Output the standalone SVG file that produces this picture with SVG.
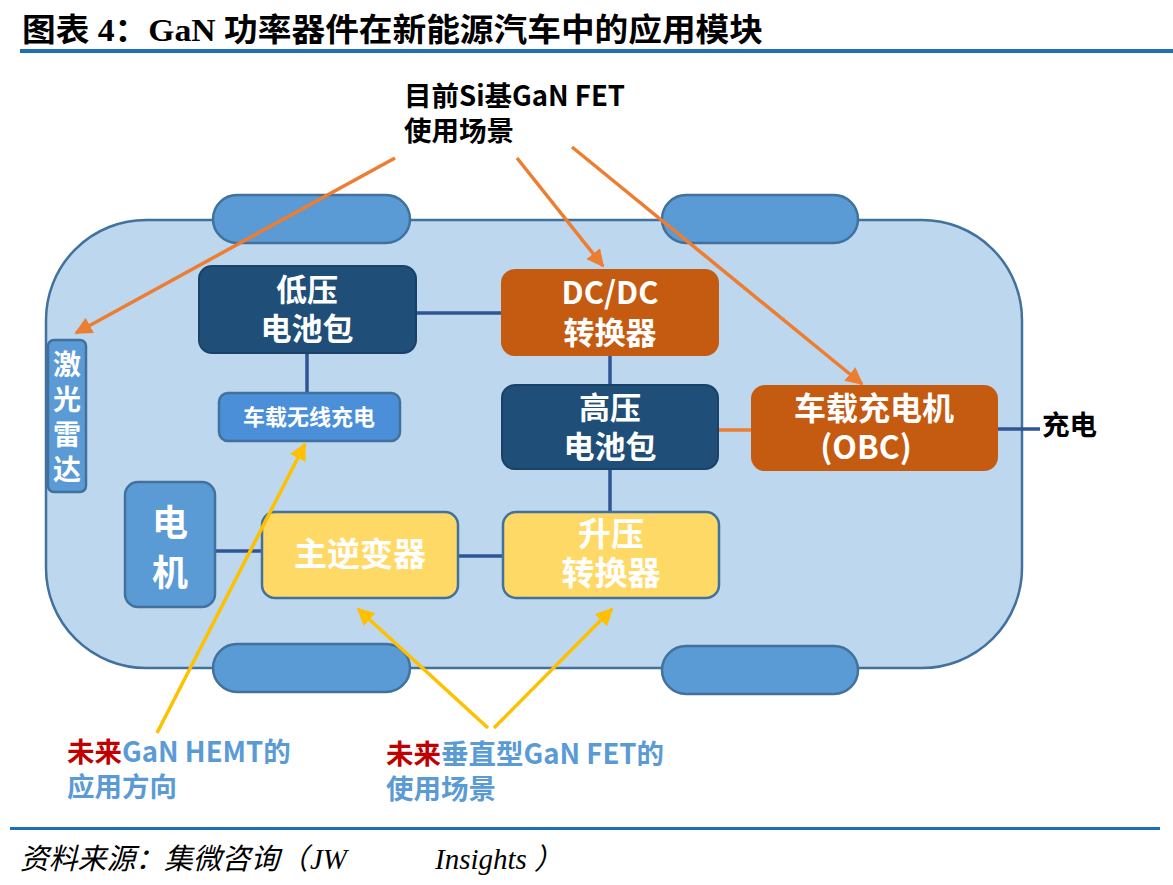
<svg xmlns="http://www.w3.org/2000/svg" width="1173" height="885" viewBox="0 0 1173 885">
<defs>
<style>
.title{font-family:"Liberation Serif","Noto Sans CJK SC",serif;font-weight:bold;font-size:32px;fill:#000}
.src{font-family:"Liberation Serif","Noto Sans CJK SC",serif;font-style:italic;font-size:29px;fill:#000}
.nt{font-family:"Noto Sans CJK SC","Noto Sans",sans-serif;font-weight:bold;fill:#fff;text-anchor:middle}
.lbl{font-family:"Noto Sans CJK SC","Noto Sans",sans-serif;font-weight:bold;font-size:27.5px}
.dark{fill:#1f4e79;stroke:#1a4268;stroke-width:2}
.orange{fill:#c55a11;stroke:#c55a11;stroke-width:2}
.mid{fill:#5b9bd5;stroke:#41719c;stroke-width:2.5}
.yel{fill:#ffd966;stroke:#41719c;stroke-width:2.5}
.wheel{fill:#5b9bd5;stroke:#41719c;stroke-width:2.5}
.conn{stroke:#2f5597;stroke-width:3.5;fill:none}
.oarr{stroke:#ed7d31;stroke-width:3.5;fill:none}
.yarr{stroke:#ffc000;stroke-width:3.5;fill:none}
</style>
<marker id="ao" viewBox="0 0 10 10" refX="9" refY="5" markerWidth="5" markerHeight="5" orient="auto" markerUnits="strokeWidth"><path d="M0,0 L10,5 L0,10 z" fill="#ed7d31"/></marker>
<marker id="ay" viewBox="0 0 10 10" refX="9" refY="5" markerWidth="5" markerHeight="5" orient="auto" markerUnits="strokeWidth"><path d="M0,0 L10,5 L0,10 z" fill="#ffc000"/></marker>
</defs>
<rect width="1173" height="885" fill="#fff"/>
<text class="title" x="22" y="41" textLength="741" lengthAdjust="spacingAndGlyphs">图表 4：GaN 功率器件在新能源汽车中的应用模块</text>
<rect x="20" y="49" width="1153" height="4" fill="#1f6fb5"/>

<g id="car">
<rect x="46" y="220" width="976" height="448" rx="100" fill="#bdd7ee" stroke="#41719c" stroke-width="2.5"/>
<rect x="213" y="195" width="197" height="48" rx="24" class="wheel"/>
<rect x="662" y="195" width="196" height="48" rx="24" class="wheel"/>
<rect x="213" y="644" width="197" height="48" rx="24" class="wheel"/>
<rect x="662" y="646" width="196" height="48" rx="24" class="wheel"/>
</g>

<g id="connectors">
<line class="conn" x1="416" y1="313" x2="502" y2="313"/>
<line class="conn" x1="307" y1="353" x2="307" y2="393"/>
<line class="conn" x1="610" y1="355" x2="610" y2="385"/>
<line class="conn" x1="610" y1="469" x2="610" y2="512"/>
<line class="conn" x1="215" y1="551" x2="262" y2="551"/>
<line class="conn" x1="458" y1="556" x2="503" y2="556"/>
<line x1="718" y1="430" x2="752" y2="430" stroke="#ed7d31" stroke-width="3.5"/>
<line class="conn" x1="978" y1="429" x2="1040" y2="429"/>
</g>

<g id="n-lv"><rect x="199" y="266" width="217" height="87" rx="13" class="dark"/>
<text class="nt" font-size="31" x="307" y="301">低压</text><text class="nt" font-size="31" x="307" y="340">电池包</text></g>
<g id="n-dcdc"><rect x="502" y="270" width="216" height="85" rx="13" class="orange"/>
<text class="nt" font-size="31" x="610" y="304">DC/DC</text><text class="nt" font-size="31" x="610" y="344">转换器</text></g>
<g id="n-hv"><rect x="502" y="385" width="216" height="84" rx="13" class="dark"/>
<text class="nt" font-size="31" x="610" y="419">高压</text><text class="nt" font-size="31" x="610" y="458">电池包</text></g>
<g id="n-obc"><rect x="752" y="386" width="245" height="84" rx="13" class="orange"/>
<text class="nt" font-size="32" x="874" y="420">车载充电机</text><text class="nt" font-size="32" x="866" y="459">(OBC)</text></g>
<g id="n-wl"><rect x="219" y="393" width="181" height="48" rx="9" fill="#4a8fd8" stroke="#41719c" stroke-width="2.5"/>
<text class="nt" font-size="22" x="309" y="425">车载无线充电</text></g>
<g id="n-lidar"><rect x="48" y="340" width="38" height="152" rx="6" class="mid"/>
<text class="nt" font-size="28" x="67" y="375">激</text><text class="nt" font-size="28" x="67" y="410">光</text><text class="nt" font-size="28" x="67" y="445">雷</text><text class="nt" font-size="28" x="67" y="480">达</text></g>
<g id="n-motor"><rect x="125" y="482" width="90" height="125" rx="13" class="mid"/>
<text class="nt" font-size="36" x="170" y="536">电</text><text class="nt" font-size="36" x="170" y="586">机</text></g>
<g id="n-inv"><rect x="262" y="512" width="196" height="86" rx="13" class="yel"/>
<text class="nt" font-size="33" x="360" y="566">主逆变器</text></g>
<g id="n-boost"><rect x="503" y="512" width="216" height="86" rx="13" class="yel"/>
<text class="nt" font-size="33" x="611" y="546">升压</text><text class="nt" font-size="33" x="611" y="585">转换器</text></g>

<g id="arrows">
<line class="oarr" x1="395" y1="158" x2="76" y2="333" marker-end="url(#ao)"/>
<line class="oarr" x1="517" y1="158" x2="603" y2="266" marker-end="url(#ao)"/>
<line class="oarr" x1="572" y1="147" x2="862" y2="384" marker-end="url(#ao)"/>
<line class="yarr" x1="157" y1="733" x2="305" y2="444" marker-end="url(#ay)"/>
<line class="yarr" x1="488" y1="728" x2="358" y2="609" marker-end="url(#ay)"/>
<line class="yarr" x1="494" y1="728" x2="612" y2="609" marker-end="url(#ay)"/>
</g>

<g id="labels">
<text class="lbl" x="404" y="106" fill="#000">目前Si基GaN FET</text>
<text class="lbl" x="404" y="141" fill="#000">使用场景</text>
<text class="lbl" x="1042" y="435" font-size="24" fill="#000">充电</text>
<text class="lbl" x="67" y="762"><tspan fill="#c00000">未来</tspan><tspan fill="#5b9bd5">GaN HEMT的</tspan></text>
<text class="lbl" x="67" y="797" fill="#5b9bd5">应用方向</text>
<text class="lbl" x="386" y="764"><tspan fill="#c00000">未来</tspan><tspan fill="#5b9bd5">垂直型GaN FET的</tspan></text>
<text class="lbl" x="386" y="799" fill="#5b9bd5">使用场景</text>
</g>

<rect x="10" y="827" width="1150" height="3" fill="#1f6fb5"/>
<text class="src" x="20" y="869"><tspan x="20" textLength="288" lengthAdjust="spacingAndGlyphs">资料来源：集微咨询（</tspan><tspan x="310">JW</tspan><tspan x="435">Insights</tspan><tspan x="534">）</tspan></text>
</svg>
